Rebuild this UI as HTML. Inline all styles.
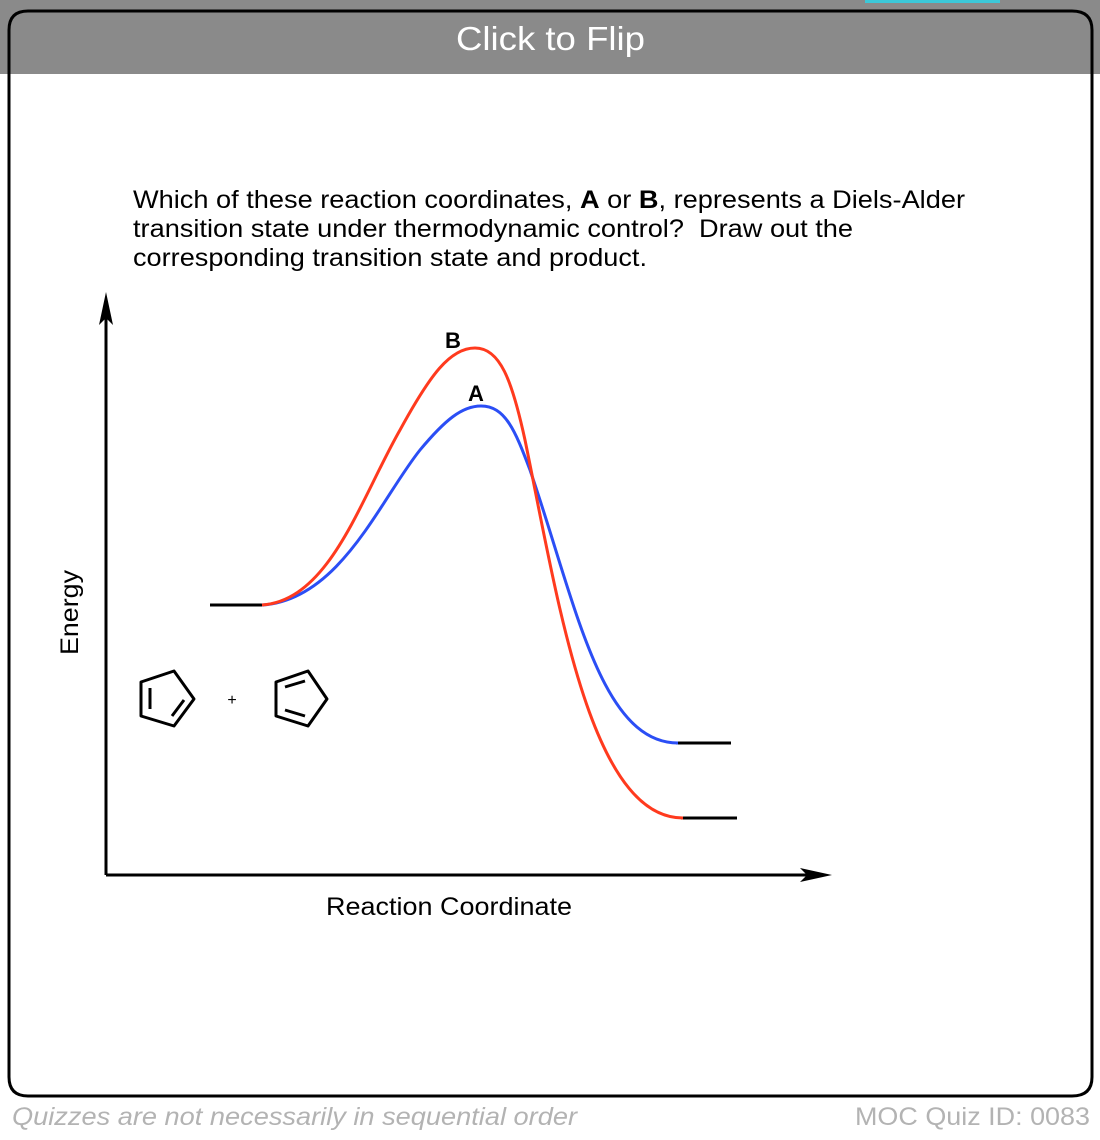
<!DOCTYPE html>
<html><head><style>
html,body{margin:0;padding:0;background:#fff;width:1100px;height:1140px;overflow:hidden;font-family:"Liberation Sans",sans-serif}
</style></head><body>
<svg width="1100" height="1140" viewBox="0 0 1100 1140" xmlns="http://www.w3.org/2000/svg">
<rect x="0" y="0" width="1100" height="74" fill="#8a8a8a"/>
<rect x="865" y="0" width="135" height="3" fill="#3cc8d8"/>
<path d="M9,74 V30 Q9,11 28,11 H1072 Q1092,11 1092,30 V74" fill="#8a8a8a" stroke="#000" stroke-width="3"/>
<rect x="9" y="74" width="1083" height="1022" fill="#fff"/>
<path d="M9,74 V1077 Q9,1096 28,1096 H1072 Q1092,1096 1092,1077 V74" fill="none" stroke="#000" stroke-width="3"/>
<text x="456" y="50" font-size="33" fill="#fff" textLength="189" lengthAdjust="spacingAndGlyphs">Click to Flip</text>
<g font-size="25" fill="#000">
<text x="133" y="208" textLength="832" lengthAdjust="spacingAndGlyphs">Which of these reaction coordinates, <tspan font-weight="bold">A</tspan> or <tspan font-weight="bold">B</tspan>, represents a Diels-Alder</text>
<text x="133" y="237" textLength="720" lengthAdjust="spacingAndGlyphs" xml:space="preserve">transition state under thermodynamic control?  Draw out the</text>
<text x="133" y="266" textLength="514" lengthAdjust="spacingAndGlyphs">corresponding transition state and product.</text>
<text x="326" y="915" textLength="246" lengthAdjust="spacingAndGlyphs">Reaction Coordinate</text>
<text transform="translate(78,655) rotate(-90)" textLength="85" lengthAdjust="spacingAndGlyphs">Energy</text>
<text x="453" y="348" text-anchor="middle" font-weight="bold" font-size="22">B</text>
<text x="476" y="401" text-anchor="middle" font-weight="bold" font-size="22">A</text>
</g>
<g stroke="#000" stroke-width="3" fill="none">
<line x1="106" y1="875" x2="106" y2="310"/>
<line x1="106" y1="875" x2="815" y2="875"/>
<line x1="210" y1="605" x2="264" y2="605"/>
<line x1="676" y1="743" x2="731" y2="743"/>
<line x1="681" y1="818" x2="737" y2="818"/>
</g>
<polygon points="106,292 99,325 106,318 113,325" fill="#000"/>
<polygon points="832,875 800,868 807,875 800,882" fill="#000"/>
<path d="M262,605 C340,600 380,500 420,450 C445,420 462,406 481,406 C505,406 515,430 530,470 C575,600 600,743 678,743" fill="none" stroke="#2b4ef5" stroke-width="3"/>
<path d="M262,605 C330,600 360,500 400,430 C430,375 450,348 475,348 C500,348 512,380 525,440 C558,600 590,818 683,818" fill="none" stroke="#ff3a1e" stroke-width="3"/>
<g stroke="#000" stroke-width="3" fill="none" stroke-linejoin="round">
<polygon points="141,682 174,671 194,699 174,726 141,716"/>
<line x1="150" y1="688" x2="150" y2="709"/>
<line x1="172" y1="716" x2="184" y2="700"/>
<polygon points="276,682 308,671 327,699 308,726 276,716"/>
<line x1="285" y1="687" x2="305" y2="681"/>
<line x1="285" y1="710" x2="305" y2="716"/>
</g>
<text x="232" y="705" font-size="16" text-anchor="middle">+</text>
<text x="12" y="1125" font-size="25" font-style="italic" fill="#b3b3b3" textLength="565" lengthAdjust="spacingAndGlyphs">Quizzes are not necessarily in sequential order</text>
<text x="855" y="1125" font-size="25" fill="#b3b3b3" textLength="235" lengthAdjust="spacingAndGlyphs">MOC Quiz ID: 0083</text>
</svg>
</body></html>
